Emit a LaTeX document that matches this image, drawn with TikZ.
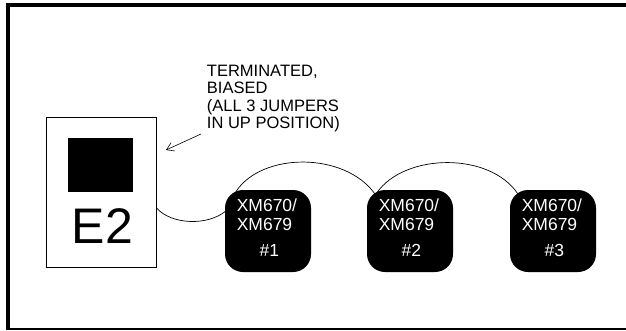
\documentclass[tikz,border=0pt]{standalone}
\usepackage{fontspec}
\setmainfont{Liberation Sans}
\usetikzlibrary{calc, shapes, arrows.meta}

\begin{document}
\begin{tikzpicture}[x=1pt, y=-1pt,
		modbox/.style={fill=black, rounded corners=18, minimum width=86, minimum height=82, inner sep=0},
		modtext/.style={text=white, font=\myfontbox, inner sep=0},
		wire/.style={line width=0.7}]
				\newcommand{\myfontlabel}{
					\fontsize{16.5}{17.3}\selectfont
				}\newcommand{\myfontbox}{
					\fontsize{17.5}{19}\selectfont
				}\newcommand{\myfontbig}{
					\fontsize{50}{50}\selectfont
				}%Size of the page
				\useasboundingbox (0,0) rectangle (626,330);
				%Outer frame, thick on top and left
				\draw [line width=4] (8,330) -- (8,5) -- (626,5);
				\draw [line width=1.2] (6,329) -- (626,329);
				%The E2 unit
				\node (e2box) [draw, line width=0.8, minimum width=110, minimum height=150, inner sep=0] at (101,192) {};
				\node (e2chip) [fill=black, minimum width=65, minimum height=54, inner sep=0] at (100.5,165) {};
				\node (e2name) [anchor=base, inner sep=0, font=\myfontbig] at (101,243) {E2};
				%The note and its arrow
				\node (note) [anchor=north west, align=left, inner sep=0, font=\myfontlabel] at (204,65) {TERMINATED,\\BIASED\\(ALL 3 JUMPERS\\IN UP POSITION)};
				\coordinate (arrowtail) at (201,134);
				\coordinate (arrowtip) at (166,150);
				\draw [-{Straight Barb[length=7, width=9]}, line width=0.6] (arrowtail) -- (arrowtip);
				%The three modules
				\foreach \i/\x in {1/268, 2/410, 3/553} {
					\node (m\i) [modbox] at (\x,231) {};
					\node (top\i) [modtext, anchor=base west] at ($(m\i.north west)+(9,22)$) {XM670/};
					\node (mid\i) [modtext, anchor=base west] at ($(m\i.north west)+(9,41)$) {XM679};
					\node (num\i) [modtext, anchor=base] at ($(m\i.north)+(0,67)$) {\#\i};
				}
				%The cable
				\draw [wire] (e2box.-16) .. controls +(15,17) and +(-18,15) .. ($(m1.west)+(1,-20)$);
				\draw [wire] ($(m1.north west)+(11,2)$) .. controls +(26,-40) and +(-30,-42) .. ($(m2.north west)+(8,4)$);
				\draw [wire] ($(m2.north west)+(10,3)$) .. controls +(28,-40) and +(-28,-42) .. ($(m3.north west)+(8,4)$);
				\end{tikzpicture}
\end{document}
